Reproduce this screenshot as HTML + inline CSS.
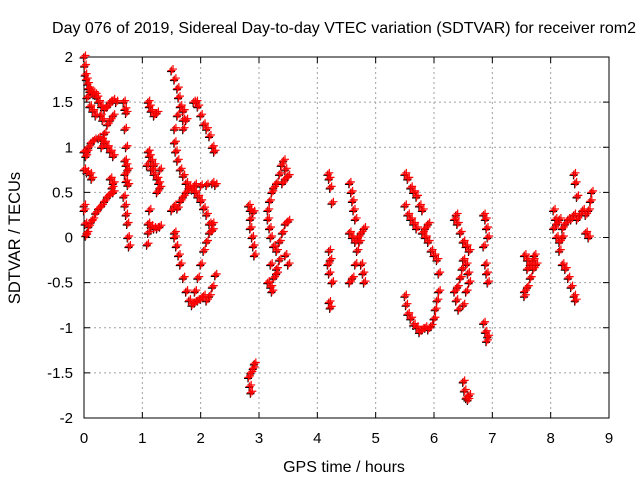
<!DOCTYPE html>
<html><head><meta charset="utf-8"><style>
body{margin:0;background:#fff}
svg{display:block;font-family:"Liberation Sans",sans-serif}
</style></head><body>
<svg id="chart" width="640" height="480" viewBox="0 0 640 480">
<rect width="640" height="480" fill="#fff"/>
<text x="344" y="33" text-anchor="middle" font-size="16">Day 076 of 2019, Sidereal Day-to-day VTEC variation (SDTVAR) for receiver rom2</text>
<g id="grid"></g>
<g id="axes"></g>
<g id="marks"></g>
<text x="344" y="472" text-anchor="middle" font-size="16">GPS time / hours</text>
<text transform="translate(20,238) rotate(-90)" text-anchor="middle" font-size="16.5">SDTVAR / TECUs</text>
</svg>
<script>
const xTicks=[0,1,2,3,4,5,6,7,8,9];
const yTicks=[2,1.5,1,0.5,0,-0.5,-1,-1.5,-2];
const yTickLabels=["2","1.5","1","0.5","0","-0.5","-1","-1.5","-2"];
const hours=[0,0.01,0.02,0.04,0.06,0.08,0.1,0.13,0.16,0.19,0.22,0.25,0.3,0.35,0.4,0.45,0.5,0.55,0.05,0.1,0.15,0.2,0.28,0.32,
0,0.03,0.05,0.08,0.12,0.18,0.25,0.3,0.35,0.4,0.45,0.5,0.35,0.4,0.45,0.5,0.3,
0,0.05,0.1,0.13,0.03,0.05,0.08,0.12,0.15,0.2,0.25,0.3,0.35,0.4,0.45,0.5,0.45,0.5,0.48,0,0,0.02,
0.68,0.7,0.72,0.7,0.72,0.7,0.72,0.75,0.7,0.72,0.75,0.68,0.7,0.72,0.74,0.75,0.77,
1.1,1.12,1.15,1.2,1.25,1.1,1.12,1.15,1.2,1.15,1.2,1.25,1.28,1.3,1.25,1.08,1.3,1.12,1.1,1.15,1.1,1.2,1.25,1.3,1.08,
1.5,1.55,1.6,1.62,1.65,1.7,1.75,1.6,1.55,1.55,1.57,1.6,1.65,1.7,1.75,1.8,1.85,1.9,1.95,2.0,2.05,2.1,2.15,2.2,
1.88,1.92,1.95,2.0,2.05,2.1,2.15,2.2,2.23,1.7,1.7,
1.55,1.55,1.58,1.62,1.65,1.7,1.75,1.8,1.85,1.9,1.95,2.0,2.05,2.1,2.15,2.2,2.25,1.9,1.95,2.0,2.05,2.1,2.15,2.2,
1.5,1.55,1.6,1.65,1.7,1.75,1.8,1.9,2.0,2.1,2.2,2.25,
2.82,2.85,2.9,2.85,2.85,2.88,2.9,2.92,2.82,2.86,2.9,2.92,2.84,2.86,
3.15,3.18,3.22,3.25,3.3,3.35,3.38,3.42,3.45,3.5,3.45,3.4,3.15,3.18,3.2,3.25,3.3,3.35,3.4,3.45,3.5,3.2,3.15,3.2,3.25,3.3,3.35,3.45,3.5,3.3,3.22,
4.18,4.2,4.22,4.25,4.2,4.22,4.18,4.2,4.25,4.2,4.22,
4.55,4.58,4.6,4.62,4.65,4.55,4.6,4.65,4.7,4.75,4.8,4.72,4.68,4.65,4.6,4.55,4.75,4.78,4.8,
5.5,5.55,5.6,5.65,5.7,5.75,5.8,5.5,5.55,5.6,5.65,5.7,5.8,5.85,5.9,5.95,6.0,6.05,6.08,5.85,5.9,
5.5,5.52,5.55,5.6,5.65,5.7,5.75,5.8,5.85,5.9,5.95,6.0,6.02,6.05,6.08,
6.35,6.38,6.4,6.45,6.5,6.55,6.6,6.5,6.48,6.45,6.4,6.55,6.58,6.6,6.55,6.5,6.35,6.38,6.42,6.5,6.52,6.55,6.58,6.6,
6.85,6.88,6.9,6.92,6.85,6.88,6.9,6.92,6.85,6.88,6.92,6.9,
7.55,7.6,7.65,7.7,7.75,7.6,7.65,7.6,7.55,7.55,7.7,7.72,
8.05,8.08,8.05,8.1,8.15,8.2,8.25,8.3,8.35,8.4,8.45,8.5,8.55,8.6,8.65,8.1,8.15,8.2,8.6,8.65,8.7,8.68,8.45,8.4,8.42,8.15,8.2,8.25,8.3,8.35,8.4,8.42];
const sdtvar=[2.0,1.9,1.8,1.75,1.7,1.65,1.62,1.6,1.6,1.58,1.55,1.5,1.45,1.42,1.45,1.5,1.52,1.5,1.55,1.45,1.4,1.35,1.35,1.3,
0.95,0.9,0.95,1.0,1.05,1.08,1.1,1.08,1.05,1.0,0.95,0.9,1.15,1.25,1.3,1.35,1.0,
0.75,0.72,0.7,0.65,0.02,0.05,0.12,0.17,0.2,0.27,0.32,0.35,0.4,0.45,0.48,0.5,0.65,0.6,0.55,0.35,0.3,0.15,
1.5,1.42,1.38,1.2,1.0,0.85,0.8,0.75,0.7,0.62,0.58,0.45,0.35,0.25,0.15,0.0,-0.1,
1.5,1.45,1.4,1.35,1.38,0.95,0.9,0.85,0.8,0.75,0.7,0.65,0.6,0.55,0.5,0.8,0.75,0.3,0.15,0.12,0.05,0.1,0.1,0.12,-0.08,
1.85,1.75,1.65,1.55,1.45,1.4,1.3,1.35,1.2,1.05,0.95,0.85,0.75,0.68,0.6,0.55,0.53,0.5,0.45,0.4,0.32,0.25,0.15,0.08,
1.5,1.5,1.45,1.35,1.25,1.2,1.12,1.0,0.95,1.3,1.2,
0.05,0.0,-0.1,-0.2,-0.3,-0.45,-0.6,-0.7,-0.75,-0.72,-0.7,-0.68,-0.65,-0.7,-0.65,-0.55,-0.42,-0.6,-0.45,-0.3,-0.15,-0.05,0.05,0.15,
0.3,0.35,0.32,0.4,0.45,0.5,0.55,0.58,0.57,0.58,0.6,0.58,
0.35,0.3,0.28,0.2,0.1,0.0,-0.1,-0.2,-1.55,-1.5,-1.45,-1.4,-1.65,-1.72,
0.3,0.4,0.5,0.55,0.6,0.7,0.8,0.85,0.75,0.68,0.65,0.6,0.2,0.1,0.0,-0.1,-0.15,-0.05,0.05,0.15,0.18,-0.3,-0.5,-0.55,-0.45,-0.35,-0.25,-0.2,-0.3,-0.4,-0.6,
0.7,0.65,0.55,0.38,-0.15,-0.25,-0.3,-0.4,-0.5,-0.72,-0.78,
0.6,0.5,0.4,0.3,0.2,0.05,0.0,-0.05,0.0,0.05,0.1,-0.05,-0.15,-0.3,-0.45,-0.5,-0.3,-0.4,-0.5,
0.7,0.65,0.55,0.5,0.45,0.35,0.3,0.35,0.25,0.2,0.15,0.1,0.05,0.0,-0.05,-0.15,-0.2,-0.25,-0.4,0.1,0.15,
-0.65,-0.75,-0.85,-0.9,-0.97,-1.0,-1.05,-1.02,-1.0,-1.02,-0.98,-0.9,-0.8,-0.7,-0.6,
0.2,0.25,0.15,0.05,-0.05,-0.1,-0.15,-0.25,-0.35,-0.45,-0.55,-0.3,-0.4,-0.5,-0.6,-0.75,-0.6,-0.7,-0.8,-1.6,-1.7,-1.78,-1.8,-1.75,
0.25,0.2,0.1,0.0,-0.1,-0.3,-0.4,-0.5,-0.95,-1.05,-1.1,-1.15,
-0.2,-0.25,-0.3,-0.25,-0.3,-0.35,-0.45,-0.55,-0.6,-0.65,-0.35,-0.2,
0.3,0.2,0.1,0.0,-0.05,0.1,0.15,0.2,0.2,0.25,0.2,0.25,0.3,0.25,0.3,0.15,0.2,0.0,0.05,0.0,0.5,0.4,0.45,0.7,0.6,-0.15,-0.3,-0.35,-0.45,-0.55,-0.65,-0.7];
const NS="http://www.w3.org/2000/svg";
const L=84,R=609,T=57,B=418;
function xs(h){return L+(h-0)/(9-0)*(R-L);}
function ys(v){return B-(v+2)/4*(B-T);}
function mk(tag,at,parent){const e=document.createElementNS(NS,tag);for(const k in at)e.setAttribute(k,at[k]);parent.appendChild(e);return e;}
const grid=document.getElementById('grid'),axes=document.getElementById('axes'),marks=document.getElementById('marks');
xTicks.forEach(t=>{const x=xs(t);
 if(t>0&&t<9){const g=mk('line',{x1:x,x2:x,y1:T,y2:B,stroke:'#a0a0a0','stroke-dasharray':'2,3'},grid);
 
 }
 mk('line',{x1:x,x2:x,y1:B,y2:B-6,stroke:'#000'},axes);
 mk('line',{x1:x,x2:x,y1:T,y2:T+6,stroke:'#000'},axes);
 const tx=mk('text',{x:x,y:443,'text-anchor':'middle','font-size':15},axes);tx.textContent=t;
 
 
});
yTicks.forEach((t,i)=>{const y=ys(t);
 if(t>-2&&t<2){const g=mk('line',{x1:L,x2:R,y1:y,y2:y,stroke:'#a0a0a0','stroke-dasharray':'2,3'},grid);
 
 }
 mk('line',{x1:L,x2:L+6,y1:y,y2:y,stroke:'#000'},axes);
 mk('line',{x1:R,x2:R-6,y1:y,y2:y,stroke:'#000'},axes);
 const tx=mk('text',{x:73,y:y+5,'text-anchor':'end','font-size':15},axes);tx.textContent=yTickLabels[i];
 
 
});
const fr=mk('rect',{x:L,y:T,width:R-L,height:B-T,fill:'none',stroke:'#000','stroke-width':1},axes);


function plus(x,y,c,parent){mk('path',{d:`M${x-4},${y}h8M${x},${y-4}v8`,stroke:c,'stroke-width':1.2,fill:'none'},parent);}
const blk=mk('g',{},marks);


const red=mk('g',{},marks);


for(let i=0;i<hours.length;i++){const x=xs(hours[i]),y=ys(sdtvar[i]);
 plus(x-0.5,y+1,'#000',blk);
 plus(x,y,'#ff0000',red);
 plus(x+1.5,y-1.5,'#ff0000',red);}
</script>
</body></html>
